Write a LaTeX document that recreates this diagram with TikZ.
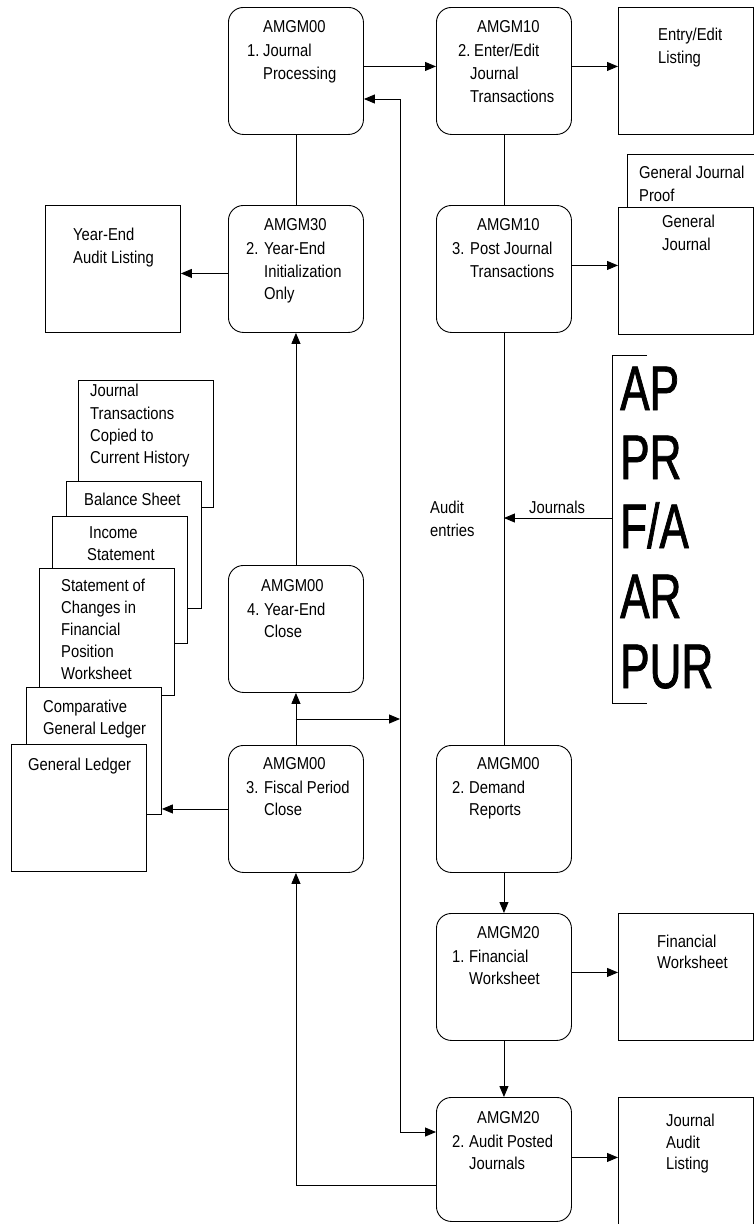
\documentclass[tikz,border=0pt]{standalone}
\usepackage{fontspec}
\setmainfont{Liberation Sans}[FakeStretch=0.86]
\newfontfamily\bigfont{Liberation Sans}[FakeStretch=0.7,FakeBold=1.2]
\usetikzlibrary{arrows.meta}
\tikzset{
  ln/.style={line width=0.9pt, draw=black},
  tip/.tip={Triangle[length=11pt,width=9pt]},
  arr/.style={ln, -tip},
  pbox/.style={ln, rounded corners=15pt, minimum width=135pt, minimum height=127pt, inner sep=0pt, anchor=north west},
  rbox/.style={ln, fill=white, minimum width=135pt, minimum height=127pt, inner sep=0pt, anchor=north west},
  txt/.style={inner sep=0pt, anchor=base west, font=\fontsize{17.2}{20}\selectfont},
  big/.style={inner sep=0pt, anchor=base west, font=\bigfont\fontsize{63}{70}\selectfont}
}
\newcommand\T[4]{\node[txt] (#1) at (#2,#3) {#4};}
\begin{document}
\begin{tikzpicture}[x=1pt,y=-1pt]
\useasboundingbox (0,0) rectangle (754,1224);
% ---------- process boxes ----------
\node[pbox] (p1) at (228,7) {};
\node[pbox] (p2) at (436,7) {};
\node[pbox] (p3) at (228,205) {};
\node[pbox] (p4) at (436,205) {};
\node[pbox] (p5) at (228,565) {};
\node[pbox] (p6) at (228,745) {};
\node[pbox] (p7) at (436,745) {};
\node[pbox] (p8) at (436,913) {};
\node[pbox, minimum height=124pt] (p9) at (436,1097) {};
% ---------- output boxes ----------
\node[rbox] (r1) at (618,7) {};
\node[rbox] (gjp) at (627,154) {};
\node[rbox] (gj) at (618,207) {};
\node[rbox] (r3) at (45,205) {};
\node[rbox] (s1) at (78,380) {};
\node[rbox] (s2) at (66,481) {};
\node[rbox] (s3) at (52,516) {};
\node[rbox] (s4) at (39,568) {};
\node[rbox] (s5) at (26,687) {};
\node[rbox] (s6) at (11,744) {};
\node[rbox] (rfw) at (618,913) {};
\node[rbox] (rjal) at (618,1097) {};
% ---------- texts in process boxes ----------
\T{p1h}{263}{32}{AMGM00}\T{p1n}{247}{56}{1.}\T{p1a}{263}{56}{Journal}\T{p1b}{263}{79}{Processing}
\T{p2h}{477}{32}{AMGM10}\T{p2n}{458}{56}{2.}\T{p2a}{474}{56}{Enter/Edit}\T{p2b}{470}{79}{Journal}\T{p2c}{470}{102}{Transactions}
\T{p3h}{264}{230}{AMGM30}\T{p3n}{246}{254}{2.}\T{p3a}{264}{254}{Year-End}\T{p3b}{264}{277}{Initialization}\T{p3c}{264}{299}{Only}
\T{p4h}{477}{230}{AMGM10}\T{p4n}{452}{254}{3.}\T{p4a}{470}{254}{Post Journal}\T{p4b}{470}{277}{Transactions}
\T{p5h}{261}{591}{AMGM00}\T{p5n}{247}{615}{4.}\T{p5a}{264}{615}{Year-End}\T{p5b}{264}{637}{Close}
\T{p6h}{263}{769}{AMGM00}\T{p6n}{246}{793}{3.}\T{p6a}{264}{793}{Fiscal Period}\T{p6b}{264}{815}{Close}
\T{p7h}{477}{769}{AMGM00}\T{p7n}{452}{793}{2.}\T{p7a}{469}{793}{Demand}\T{p7b}{469}{815}{Reports}
\T{p8h}{477}{938}{AMGM20}\T{p8n}{452}{962}{1.}\T{p8a}{469}{962}{Financial}\T{p8b}{469}{984}{Worksheet}
\T{p9h}{477}{1123}{AMGM20}\T{p9n}{452}{1147}{2.}\T{p9a}{469}{1147}{Audit Posted}\T{p9b}{469}{1169}{Journals}
% ---------- texts in output boxes ----------
\T{r1a}{658}{40}{Entry/Edit}\T{r1b}{658}{63}{Listing}
\T{gjpa}{639}{178}{General Journal}\T{gjpb}{639}{201}{Proof}
\T{gja}{662}{227}{General}\T{gjb}{662}{250}{Journal}
\T{r3a}{73}{240}{Year-End}\T{r3b}{73}{263}{Audit Listing}
\T{s1a}{90}{396}{Journal}\T{s1b}{90}{419}{Transactions}\T{s1c}{90}{441}{Copied to}\T{s1d}{90}{463}{Current History}
\T{s2a}{84}{505}{Balance Sheet}
\T{s3a}{89}{538}{Income}\T{s3b}{87}{560}{Statement}
\T{s4a}{61}{591}{Statement of}\T{s4b}{61}{613}{Changes in}\T{s4c}{61}{635}{Financial}\T{s4d}{61}{657}{Position}\T{s4e}{61}{679}{Worksheet}
\T{s5a}{43}{712}{Comparative}\T{s5b}{43}{734}{General Ledger}
\T{s6a}{28}{770}{General Ledger}
\T{rfwa}{657}{947}{Financial}\T{rfwb}{657}{968}{Worksheet}
\T{rjala}{666}{1126}{Journal}\T{rjalb}{666}{1148}{Audit}\T{rjalc}{666}{1169}{Listing}
% ---------- side labels ----------
\T{aud1}{430}{513}{Audit}\T{aud2}{430}{536}{entries}
\T{jrn}{529}{513}{Journals}
\node[big] (ap) at (620,410) {AP};
\node[big] (pr) at (620,479) {PR};
\node[big] (fa) at (620,548) {F/A};
\node[big] (ar) at (620,618) {AR};
\node[big] (pur) at (620,688) {PUR};
\draw[ln] (647,355) -- (612,355) -- (612,703) -- (647,703);
% ---------- connectors ----------
\coordinate (fbtop) at (400,99);
\coordinate (fbbot) at (400,1132);
\coordinate (jn) at (295.5,719);
\coordinate (brk) at (612,518);
\draw[arr] ([yshift=4.5pt]p1.east) -- ([yshift=4.5pt]p2.west);
\draw[arr] ([yshift=4.5pt]p2.east) -- ([yshift=4.5pt]p2.east -| r1.west);
\draw[ln] (p1.south) -- (p3.north);
\draw[ln] (p2.south) -- (p4.north);
\draw[arr] ([yshift=-4.5pt]p3.west) -- ([yshift=-4.5pt]p3.west -| r3.east);
\draw[arr] ([yshift=3.5pt]p4.east) -- ([yshift=3.5pt]p4.east -| gj.west);
\draw[ln, tip-tip] (fbtop -| p1.east) -- (fbtop) -- (fbbot) -- (fbbot -| p9.west);
\draw[arr] ([yshift=-26pt]p9.west) -| (p6.south);
\draw[arr] (p6.north) -- (p5.south);
\draw[arr] (jn) -- (jn -| fbbot);
\draw[arr] (p5.north) -- (p3.south);
\draw[arr] (p6.west) -- (p6.west -| s5.east);
\draw[ln] (p4.south) -- (p7.north);
\draw[arr] (p7.south) -- (p8.north);
\draw[arr] (p8.south) -- (p9.north);
\draw[arr] ([yshift=4.5pt]p8.east) -- ([yshift=4.5pt]p8.east -| rfw.west);
\draw[arr] ([yshift=2pt]p9.east) -- ([yshift=2pt]p9.east -| rjal.west);
\draw[arr] (brk) -- (brk -| p4.south);
\end{tikzpicture}
\end{document}
